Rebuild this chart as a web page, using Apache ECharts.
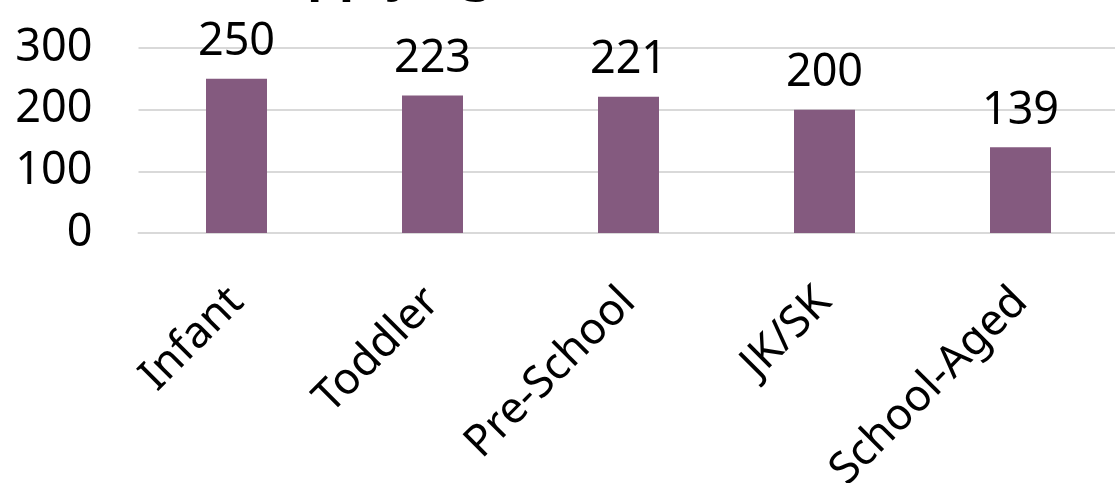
<!DOCTYPE html>
<html><head><meta charset="utf-8">
<script src="https://cdn.jsdelivr.net/npm/echarts@6/dist/echarts.min.js"></script>
<style>html,body{margin:0;padding:0;background:#fff}#c{width:1115px;height:483px}</style>
</head><body><div id="c"></div>
<script>
const titleText = "Children Applying";
const categories = ["Infant", "Toddler", "Pre-School", "JK/SK", "School-Aged"];
const values = [250, 223, 221, 200, 139];
const yTicks = [0, 100, 200, 300];

const FONT = "Noto Sans";
const chart = echarts.init(document.getElementById('c'), null, {renderer: 'canvas'});
chart.setOption({
  animation: false,
  backgroundColor: '#fff',
  title: {
    text: titleText, left: 50, top: -49, padding: 0,
    textStyle: {fontFamily: FONT, fontSize: 50, fontWeight: 'bold', color: '#000'}
  },
  grid: {left: 138.5, right: -3.5, top: 48, bottom: 250, outerBoundsMode: 'none', containLabel: false},
  xAxis: {
    type: 'category', data: categories,
    axisLine: {lineStyle: {color: '#d9d9d9', width: 2}},
    axisTick: {show: false},
    axisLabel: {rotate: 45, fontFamily: FONT, fontSize: 44, color: '#000', margin: 62, interval: 0}
  },
  yAxis: {
    type: 'value', min: yTicks[0], max: yTicks[yTicks.length - 1], interval: 100,
    axisLine: {show: false}, axisTick: {show: false},
    splitLine: {lineStyle: {color: '#d9d9d9', width: 2}},
    axisLabel: {fontFamily: FONT, fontSize: 45, color: '#000', margin: 46}
  },
  series: [{
    type: 'bar', data: values, barWidth: 61,
    itemStyle: {color: '#845A7F'},
    label: {show: true, position: 'top', distance: 14, fontFamily: FONT, fontSize: 45, color: '#000'}
  }]
});
</script></body></html>
